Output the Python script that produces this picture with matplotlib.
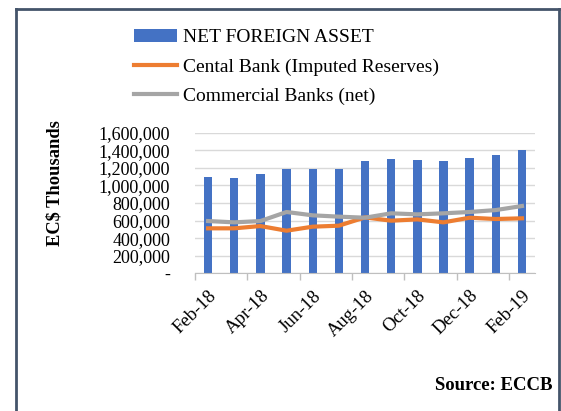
import matplotlib
matplotlib.use("Agg")
import matplotlib.pyplot as plt
from matplotlib.ticker import FuncFormatter, FixedLocator

months = ["Feb-18", "Mar-18", "Apr-18", "May-18", "Jun-18", "Jul-18", "Aug-18",
          "Sep-18", "Oct-18", "Nov-18", "Dec-18", "Jan-19", "Feb-19"]
net_foreign_asset = [1100000, 1088000, 1126000, 1183000, 1183000, 1183000, 1274000,
                     1297000, 1285000, 1274000, 1308000, 1342000, 1399000]
central_bank = [512000, 512000, 538000, 485000, 531000, 542000, 637000,
                599000, 614000, 580000, 633000, 618000, 626000]
commercial_banks = [595000, 580000, 595000, 698000, 660000, 645000, 633000,
                    683000, 671000, 683000, 698000, 720000, 766000]

plt.rcParams["font.family"] = ["Liberation Serif", "DejaVu Serif"]

fig = plt.figure(figsize=(5.61, 4.11), dpi=100)
ax = fig.add_axes([0.3476, 0.335, 0.6061, 0.342])

x = range(len(months))
bars = ax.bar(x, net_foreign_asset, width=0.32, color="#4472C4", label="NET FOREIGN ASSET", zorder=2)
l1, = ax.plot(x, central_bank, color="#ED7D31", lw=3, label="Cental Bank (Imputed Reserves)", zorder=3)
l2, = ax.plot(x, commercial_banks, color="#A5A5A5", lw=3, label="Commercial Banks (net)", zorder=3)

ax.set_xlim(-0.5, len(months) - 0.5)
ax.set_ylim(0, 1600000)
ax.set_yticks(range(0, 1600001, 200000))
ax.yaxis.set_major_formatter(FuncFormatter(lambda v, p: "-" if v == 0 else f"{int(v):,}"))
ax.grid(axis="y", color="#D9D9D9", lw=1, zorder=0)

ax.set_xticks(list(x)[::2])
ax.set_xticklabels(months[::2], rotation=45, ha="right", rotation_mode="anchor")
ax.xaxis.set_minor_locator(FixedLocator([i - 0.5 for i in range(0, len(months), 2)]))
ax.tick_params(axis="x", which="major", length=0, pad=10, labelsize=13.5)
ax.tick_params(axis="x", which="minor", length=5, color="#BFBFBF", width=1)
ax.tick_params(axis="y", length=0, labelsize=13, pad=18)
for s in ["top", "right", "left"]:
    ax.spines[s].set_visible(False)
ax.spines["bottom"].set_color("#BFBFBF")

ax.set_ylabel("EC$ Thousands", fontsize=13.3, fontweight="bold")
ax.yaxis.set_label_coords(-0.388, 0.64)

fig.legend(handles=[bars, l1, l2], loc="upper left", bbox_to_anchor=(0.225, 0.949),
           frameon=False, fontsize=14, handlelength=2.2, handletextpad=0.3,
           labelspacing=0.6, borderaxespad=0)

fig.text(0.984, 0.052, "Source: ECCB", ha="right", va="baseline", fontsize=13.5, fontweight="bold")

# outer frame (left, top, right)
frame = dict(color="#44546A", lw=2)
fig.add_artist(plt.Line2D([0.028, 0.028], [0, 0.978], transform=fig.transFigure, **frame))
fig.add_artist(plt.Line2D([0.028, 0.996], [0.978, 0.978], transform=fig.transFigure, **frame))
fig.add_artist(plt.Line2D([0.996, 0.996], [0, 0.978], transform=fig.transFigure, **frame))

fig.savefig("out.png", dpi=100)
